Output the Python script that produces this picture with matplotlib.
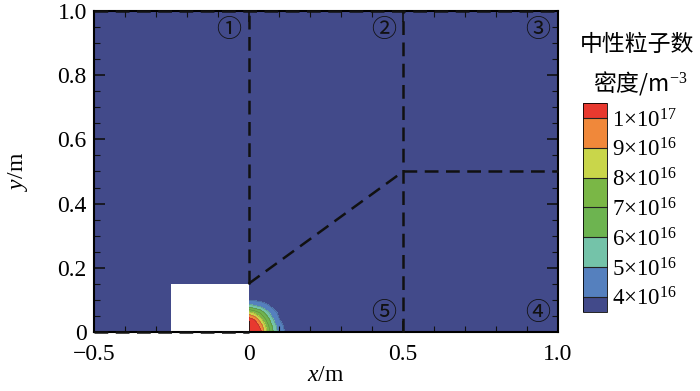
import numpy as np
import matplotlib
matplotlib.use('Agg')
import matplotlib.pyplot as plt
from matplotlib.colors import ListedColormap, BoundaryNorm
from matplotlib.ticker import MultipleLocator

plt.rcParams['font.family'] = ['Liberation Serif', 'Noto Sans CJK SC']
plt.rcParams['mathtext.fontset'] = 'custom'
plt.rcParams['mathtext.rm'] = 'Liberation Serif'
plt.rcParams['mathtext.it'] = 'Liberation Serif:italic'

# neutral particle density near the corner (units of 1e16 m^-3)
grid_x = [0.0, 0.02, 0.04, 0.06, 0.08, 0.10, 0.12, 0.14]
grid_y = [0.0, 0.02, 0.04, 0.06, 0.08, 0.10]
density = [
    [12.0, 11.5, 10.2, 8.0, 6.0, 4.5, 3.9, 3.5],
    [11.5, 11.0, 9.5, 7.5, 5.6, 4.3, 3.8, 3.5],
    [10.5, 9.8, 8.3, 6.6, 5.0, 4.0, 3.7, 3.5],
    [8.5, 7.8, 6.8, 5.4, 4.3, 3.8, 3.6, 3.5],
    [5.5, 5.2, 4.8, 4.2, 3.8, 3.6, 3.5, 3.5],
    [3.8, 3.8, 3.7, 3.6, 3.5, 3.5, 3.5, 3.5],
]
levels = [4, 5, 6, 7, 8, 9, 10]
level_labels = [r'4$\times$10$^{16}$', r'5$\times$10$^{16}$', r'6$\times$10$^{16}$',
                r'7$\times$10$^{16}$', r'8$\times$10$^{16}$', r'9$\times$10$^{16}$',
                r'1$\times$10$^{17}$']

# region boundaries (dashed) and region numbers
boundary_lines = [
    ([0.0, 0.0], [0.15, 1.0]),
    ([0.0, 0.5], [0.15, 0.5]),
    ([0.5, 0.5], [0.0, 1.0]),
    ([0.5, 1.0], [0.5, 0.5]),
    ([-0.5, 1.0], [1.0, 1.0]),
    ([-0.5, 0.0], [0.0, 0.0]),
]
region_names = ['①', '②', '③', '⑤', '④']
region_x = [-0.065, 0.437, 0.935, 0.437, 0.935]
region_y = [0.94, 0.94, 0.94, 0.06, 0.06]

bg = '#424a8a'
inner_colors = ['#5580be', '#74c3a9', '#6db450', '#7ab746', '#c9d64a', '#f0883a']
cmap = ListedColormap(inner_colors)
cmap.set_under(bg)
cmap.set_over('#e8392f')
norm = BoundaryNorm(levels, cmap.N)

fig = plt.figure(figsize=(7, 3.91), dpi=100)
ax = fig.add_axes([0.134, 0.151, 0.663, 0.821])
ax.set_facecolor(bg)

X, Y = np.meshgrid(grid_x, grid_y)
cs = ax.contourf(X, Y, np.array(density), levels=levels, cmap=cmap, norm=norm,
                 extend='both')
ax.contour(X, Y, np.array(density), levels=levels, colors='#333333',
           linewidths=0.3, alpha=0.5)

# white block (solid body)
ax.add_patch(plt.Rectangle((-0.25, 0.0), 0.25, 0.15, facecolor='white',
                           edgecolor='none', zorder=2))

for xs, ys in boundary_lines:
    ax.plot(xs, ys, color='#111111', lw=1.8, ls=(0, (5.5, 3)), zorder=3,
            clip_on=False)

for name, px, py in zip(region_names, region_x, region_y):
    ax.text(px, py, name, fontsize=18, ha='center', va='center', color='#111111',
            family=['Noto Sans CJK SC'], fontweight='light')

ax.set_xlim(-0.5, 1.0)
ax.set_ylim(0, 1.0)
ax.set_xticks([-0.5, 0, 0.5, 1.0])
ax.set_xticklabels(['\u22120.5', '0', '0.5', '1.0'])
ax.set_yticks([0, 0.2, 0.4, 0.6, 0.8, 1.0])
ax.set_yticklabels(['0', '0.2', '0.4', '0.6', '0.8', '1.0'])
ax.xaxis.set_minor_locator(MultipleLocator(0.1))
ax.yaxis.set_minor_locator(MultipleLocator(0.05))
ax.tick_params(which='both', direction='in', top=True, right=True, labelsize=17,
               width=1.2, color='#111111')
ax.tick_params(which='major', length=8)
ax.tick_params(which='minor', length=4, width=0.8)
ax.tick_params(axis='x', pad=9)
ax.tick_params(axis='y', pad=5)
for sp in ax.spines.values():
    sp.set_linewidth(1.5)
ax.set_xlabel(r'$x$/m', fontsize=17, labelpad=0)
ax.set_ylabel(r'$y$/m', fontsize=17, labelpad=20)

# colour legend
cax = fig.add_axes([0.833, 0.202, 0.034, 0.535])
cb = fig.colorbar(cs, cax=cax, extend='both', extendrect=True,
                  extendfrac=0.085, drawedges=True)
cb.set_ticks(levels)
cb.set_ticklabels(level_labels)
cb.ax.tick_params(length=0, labelsize=16.5, pad=4)
cb.outline.set_linewidth(0.6)
cb.dividers.set_color('#222222')
cb.dividers.set_linewidth(0.8)
fig.text(0.91, 0.885, '中性粒子数', fontsize=16.5, ha='center', va='center',
         family=['Noto Sans CJK SC'])
fig.text(0.915, 0.788, r'密度/m$^{-3}$', fontsize=16.5, ha='center', va='center',
         family=['Noto Sans CJK SC', 'Liberation Serif'])

fig.savefig('out.png', dpi=100)
